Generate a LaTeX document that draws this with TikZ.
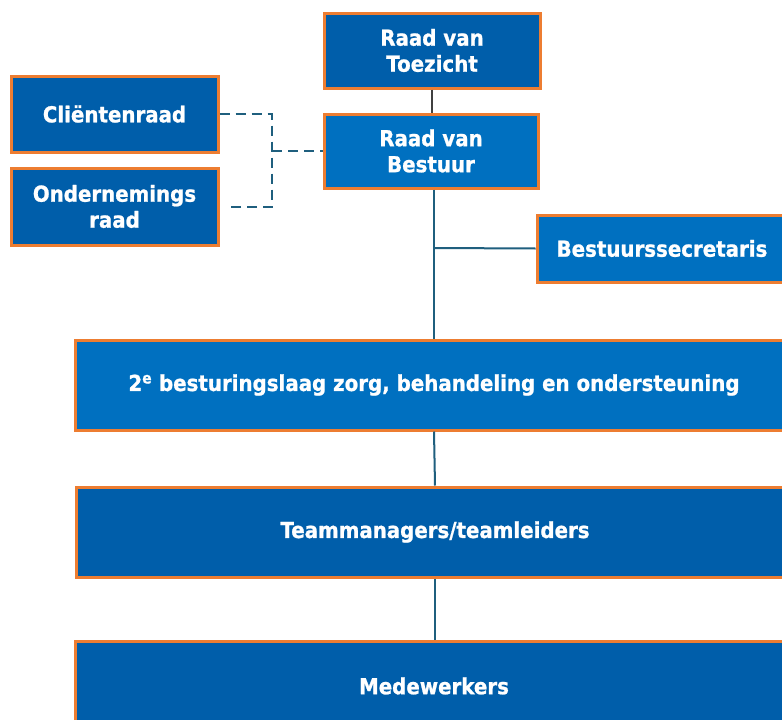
\documentclass[tikz,border=0pt]{standalone}
\usepackage{fontspec}
\setmainfont{DejaVu Sans}
\newfontfamily\boxfont{DejaVu Sans}[FakeStretch=0.9, FakeBold=1]
\usetikzlibrary{calc}
\definecolor{darkblue}{HTML}{005EAA}
\definecolor{lightblue}{HTML}{0070C0}
\definecolor{borderorange}{HTML}{ED7D31}
\definecolor{linkteal}{HTML}{1F5F7E}
\definecolor{linkgray}{HTML}{404040}
\tikzset{
  orgbox/.style={draw=borderorange, line width=3pt, rectangle, inner sep=0pt,
    text=white, align=center, font=\boxfont\bfseries\fontsize{22}{26}\selectfont},
  darkbox/.style={orgbox, fill=darkblue},
  lightbox/.style={orgbox, fill=lightblue},
  solidlink/.style={draw=linkteal, line width=2pt},
  graylink/.style={draw=linkgray, line width=1.5pt},
  dashlink/.style={draw=linkteal, line width=2pt, dash pattern=on 10pt off 6pt}
}
\begin{document}
\begin{tikzpicture}[x=1pt,y=-1pt]
\useasboundingbox (0,0) rectangle (782,720);
\clip (0,0) rectangle (782,720);
\fill[white] (0,0) rectangle (782,720);

\node[darkbox, minimum width=216pt, minimum height=75pt] (rvt) at (432,50.5) {Raad van\\Toezicht};
\node[lightbox, minimum width=214pt, minimum height=74pt] (rvb) at (431,151) {Raad van\\Bestuur};
\node[darkbox, minimum width=207pt, minimum height=76pt] (cr) at (114.5,114) {Cliëntenraad};
\node[darkbox, minimum width=207pt, minimum height=77pt] (or) at (114.5,206.5) {Ondernemings\\raad};
\node[lightbox, minimum width=250pt, minimum height=67pt] (bs) at (662,248.5) {Bestuurssecretaris};
\node[lightbox, minimum width=718pt, minimum height=90pt] (l2) at (434,385) {2\textsuperscript{e} besturingslaag zorg, behandeling en ondersteuning};
\node[darkbox, minimum width=718pt, minimum height=90pt] (tm) at (435,532) {Teammanagers/teamleiders};
\node[darkbox, minimum width=718pt, minimum height=90pt] (mw) at (434,686) {Medewerkers};

\coordinate (j) at (272,151);
\coordinate (trunk) at (434,248);

\draw[graylink] (rvt.south) -- (rvt.south |- rvb.north);
\draw[solidlink] (trunk |- rvb.south) -- (trunk |- l2.north);
\draw[solidlink] (trunk) -- (bs.west);
\draw[solidlink] (l2.south) -- (tm.north);
\draw[solidlink] (tm.south) -- (tm.south |- mw.north);
\draw[dashlink] (cr.east) -| (j) |- ([xshift=7pt]or.east);
\draw[dashlink] (j) -- (rvb.west);
\end{tikzpicture}
\end{document}
